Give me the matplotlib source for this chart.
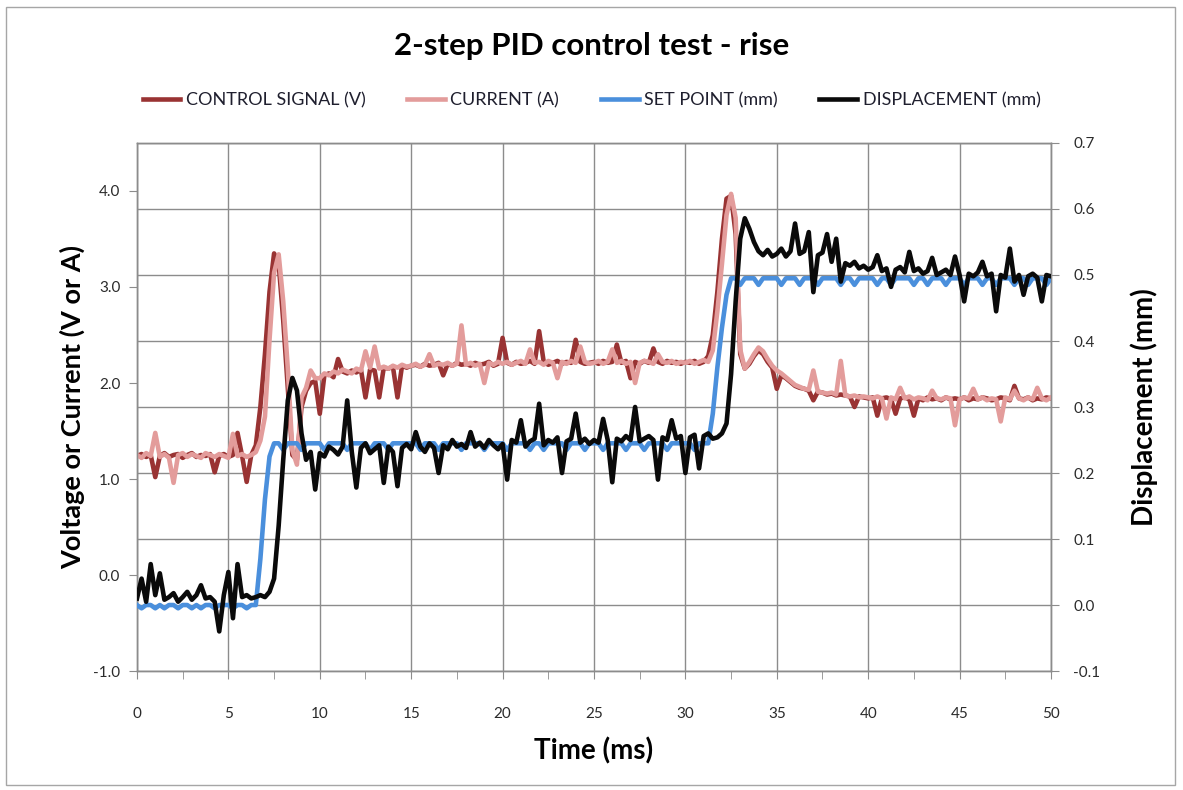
import numpy as np
import matplotlib
matplotlib.use("Agg")
import matplotlib.pyplot as plt
from matplotlib.patches import Rectangle
from matplotlib.ticker import MultipleLocator, FormatStrFormatter

plt.rcParams['font.family'] = ['Lato', 'DejaVu Sans']

# sample time (ms), 0.25 ms steps
time_ms = np.arange(201) * 0.25

control_signal = [
    1.24, 1.26, 1.23, 1.25, 1.02, 1.24, 1.27, 1.23, 1.25, 1.26, 1.22, 1.25, 1.27, 1.23, 1.25, 1.24, 1.26, 1.07, 1.24, 1.26,
    1.23, 1.25, 1.48, 1.24, 0.97, 1.25, 1.35, 1.75, 2.30, 2.95, 3.35, 3.25, 2.65, 1.95, 1.25, 1.20, 1.75, 1.92, 2.00, 2.02,
    1.68, 2.08, 2.10, 2.06, 2.25, 2.12, 2.10, 2.13, 2.11, 2.14, 1.85, 2.14, 2.13, 1.85, 2.16, 2.15, 2.17, 1.85, 2.18, 2.16,
    2.18, 2.19, 2.17, 2.20, 2.18, 2.19, 2.21, 2.08, 2.20, 2.18, 2.21, 2.19, 2.20, 2.18, 2.21, 2.19, 2.20, 2.22, 2.18, 2.20,
    2.47, 2.21, 2.19, 2.22, 2.20, 2.21, 2.23, 2.20, 2.54, 2.22, 2.19, 2.21, 2.23, 2.20, 2.22, 2.21, 2.45, 2.22, 2.20, 2.21,
    2.22, 2.20, 2.23, 2.21, 2.22, 2.40, 2.21, 2.23, 2.05, 2.22, 2.20, 2.23, 2.21, 2.36, 2.22, 2.20, 2.23, 2.21, 2.22, 2.20,
    2.22, 2.21, 2.23, 2.20, 2.22, 2.28, 2.50, 2.95, 3.50, 3.92, 3.95, 3.55, 2.30, 2.15, 2.20, 2.28, 2.34, 2.30, 2.22, 2.16,
    1.94, 2.08, 2.05, 2.01, 1.97, 1.95, 1.94, 1.92, 1.82, 1.91, 1.90, 1.88, 1.89, 1.87, 1.88, 1.87, 1.86, 1.75, 1.86, 1.85,
    1.84, 1.85, 1.66, 1.84, 1.85, 1.83, 1.68, 1.84, 1.85, 1.83, 1.66, 1.84, 1.82, 1.85, 1.83, 1.84, 1.82, 1.85, 1.83, 1.84,
    1.83, 1.85, 1.82, 1.84, 1.83, 1.85, 1.84, 1.82, 1.83, 1.85, 1.84, 1.82, 1.97, 1.84, 1.83, 1.85, 1.82, 1.84, 1.83, 1.85,
    1.84,
]

current = [
    1.25, 1.22, 1.27, 1.24, 1.48, 1.23, 1.26, 1.22, 0.96, 1.25, 1.27, 1.23, 1.26, 1.24, 1.22, 1.27, 1.25, 1.23, 1.26, 1.24,
    1.22, 1.47, 1.24, 1.26, 1.23, 1.25, 1.28, 1.40, 1.65, 2.45, 3.15, 3.34, 2.85, 2.15, 1.30, 1.15, 1.85, 1.95, 2.13, 2.05,
    2.05, 2.10, 2.08, 2.12, 2.10, 2.14, 2.12, 2.10, 2.15, 2.13, 2.33, 2.16, 2.38, 2.15, 2.17, 2.15, 2.18, 2.16, 2.19, 2.17,
    2.18, 2.20, 2.17, 2.19, 2.30, 2.18, 2.20, 2.19, 2.21, 2.18, 2.20, 2.60, 2.19, 2.21, 2.18, 2.20, 2.00, 2.21, 2.19, 2.22,
    2.20, 2.22, 2.19, 2.21, 2.23, 2.20, 2.35, 2.21, 2.22, 2.19, 2.23, 2.21, 2.05, 2.22, 2.20, 2.23, 2.21, 2.38, 2.22, 2.20,
    2.21, 2.23, 2.20, 2.22, 2.35, 2.21, 2.23, 2.20, 2.22, 2.00, 2.21, 2.23, 2.22, 2.20, 2.30, 2.22, 2.21, 2.23, 2.20, 2.22,
    2.21, 2.23, 2.20, 2.22, 2.24, 2.22, 2.34, 2.75, 3.24, 3.75, 3.97, 3.72, 2.35, 2.15, 2.22, 2.30, 2.37, 2.33, 2.25, 2.18,
    2.13, 2.10, 2.06, 2.02, 1.98, 1.96, 1.94, 1.93, 2.13, 1.91, 1.90, 1.89, 1.90, 1.88, 2.23, 1.87, 1.86, 1.87, 1.85, 1.86,
    1.85, 1.84, 1.86, 1.84, 1.63, 1.85, 1.83, 1.95, 1.84, 1.86, 1.83, 1.85, 1.84, 1.82, 1.92, 1.84, 1.83, 1.85, 1.84, 1.56,
    1.83, 1.85, 1.84, 1.94, 1.83, 1.85, 1.82, 1.84, 1.83, 1.60, 1.85, 1.83, 1.92, 1.84, 1.82, 1.85, 1.83, 1.95, 1.84, 1.82,
    1.85,
]

set_point = [
    0.000, -0.005, 0.000, 0.000, -0.005, 0.000, -0.005, 0.000, 0.000, -0.005, 0.000, 0.000, -0.005, 0.000, -0.005, 0.000, 0.000, -0.005, 0.000, 0.000,
    0.000, -0.005, 0.000, 0.000, -0.005, 0.000, 0.000, 0.070, 0.160, 0.225, 0.245, 0.245, 0.235, 0.245, 0.245, 0.245, 0.235, 0.245, 0.245, 0.245,
    0.245, 0.235, 0.245, 0.245, 0.245, 0.245, 0.235, 0.245, 0.245, 0.245, 0.245, 0.235, 0.245, 0.245, 0.245, 0.235, 0.245, 0.245, 0.245, 0.245,
    0.245, 0.245, 0.235, 0.245, 0.245, 0.245, 0.235, 0.245, 0.245, 0.245, 0.245, 0.235, 0.245, 0.245, 0.245, 0.245, 0.235, 0.245, 0.245, 0.245,
    0.245, 0.235, 0.245, 0.245, 0.245, 0.245, 0.235, 0.245, 0.245, 0.235, 0.245, 0.245, 0.245, 0.245, 0.235, 0.245, 0.245, 0.245, 0.235, 0.245,
    0.245, 0.245, 0.235, 0.245, 0.245, 0.245, 0.245, 0.235, 0.245, 0.245, 0.245, 0.235, 0.245, 0.245, 0.245, 0.245, 0.235, 0.245, 0.245, 0.245,
    0.245, 0.245, 0.235, 0.245, 0.245, 0.245, 0.290, 0.360, 0.420, 0.470, 0.495, 0.495, 0.485, 0.495, 0.495, 0.495, 0.485, 0.495, 0.495, 0.495,
    0.495, 0.485, 0.495, 0.495, 0.495, 0.485, 0.495, 0.495, 0.495, 0.485, 0.495, 0.495, 0.495, 0.495, 0.485, 0.495, 0.495, 0.485, 0.495, 0.495,
    0.495, 0.495, 0.485, 0.495, 0.495, 0.485, 0.495, 0.495, 0.495, 0.495, 0.485, 0.495, 0.495, 0.485, 0.495, 0.495, 0.495, 0.485, 0.495, 0.495,
    0.495, 0.485, 0.495, 0.495, 0.495, 0.485, 0.495, 0.495, 0.485, 0.495, 0.495, 0.495, 0.485, 0.495, 0.495, 0.485, 0.495, 0.495, 0.495, 0.485,
    0.495,
]

displacement = [
    0.010, 0.040, 0.005, 0.062, 0.015, 0.048, 0.008, 0.012, 0.018, 0.005, 0.012, 0.020, 0.008, 0.015, 0.030, 0.010, 0.012, 0.005, -0.040, 0.015,
    0.050, -0.020, 0.062, 0.012, 0.015, 0.010, 0.012, 0.015, 0.012, 0.020, 0.040, 0.120, 0.220, 0.310, 0.344, 0.325, 0.260, 0.220, 0.232, 0.175,
    0.230, 0.225, 0.240, 0.235, 0.228, 0.240, 0.310, 0.232, 0.178, 0.238, 0.245, 0.230, 0.236, 0.242, 0.185, 0.240, 0.232, 0.180, 0.238, 0.244,
    0.236, 0.262, 0.240, 0.232, 0.245, 0.238, 0.200, 0.242, 0.236, 0.250, 0.240, 0.244, 0.238, 0.262, 0.240, 0.246, 0.238, 0.250, 0.242, 0.236,
    0.244, 0.190, 0.250, 0.246, 0.280, 0.240, 0.248, 0.252, 0.305, 0.242, 0.250, 0.246, 0.254, 0.200, 0.248, 0.252, 0.290, 0.246, 0.252, 0.244,
    0.250, 0.246, 0.282, 0.250, 0.186, 0.252, 0.248, 0.256, 0.250, 0.300, 0.248, 0.252, 0.256, 0.250, 0.190, 0.254, 0.250, 0.280, 0.252, 0.256,
    0.200, 0.254, 0.258, 0.207, 0.256, 0.260, 0.252, 0.254, 0.260, 0.275, 0.350, 0.460, 0.555, 0.586, 0.570, 0.550, 0.536, 0.530, 0.538, 0.528,
    0.532, 0.540, 0.528, 0.536, 0.578, 0.532, 0.536, 0.565, 0.474, 0.530, 0.534, 0.562, 0.520, 0.555, 0.490, 0.518, 0.514, 0.520, 0.510, 0.514,
    0.508, 0.512, 0.530, 0.506, 0.510, 0.482, 0.508, 0.512, 0.504, 0.535, 0.506, 0.510, 0.502, 0.506, 0.526, 0.500, 0.504, 0.508, 0.500, 0.528,
    0.500, 0.460, 0.502, 0.498, 0.504, 0.520, 0.498, 0.502, 0.445, 0.500, 0.496, 0.540, 0.490, 0.500, 0.470, 0.498, 0.502, 0.496, 0.460, 0.500,
    0.498,
]

left_lim = (-1.0, 4.5)
right_lim = (-0.1, 0.7)
grid_col = '#8c8c8c'
tick_col = '#2b2b2b'
line_w = 3.3

fig = plt.figure(figsize=(11.83, 7.90), dpi=100)
fig.patches.append(Rectangle((0.005, 0.006), 0.988, 0.985, transform=fig.transFigure,
                             fill=False, edgecolor='#a6a6a6', linewidth=1.0))

ax = fig.add_axes([0.1158, 0.1506, 0.7726, 0.6684])
ax2 = ax.twinx()

ax.plot(time_ms, control_signal, color='#993333', lw=line_w, label='CONTROL SIGNAL (V)', zorder=3)
ax.plot(time_ms, current, color='#e39c9b', lw=line_w, label='CURRENT (A)', zorder=4)
ax2.plot(time_ms, set_point, color='#4a8fdc', lw=line_w, label='SET POINT (mm)', zorder=3)
ax2.plot(time_ms, displacement, color='#0a0a0a', lw=line_w, label='DISPLACEMENT (mm)', zorder=4)

ax.set_xlim(0, 50)
ax.set_ylim(*left_lim)
ax2.set_ylim(*right_lim)

ax.xaxis.set_major_locator(MultipleLocator(5))
ax.xaxis.set_minor_locator(MultipleLocator(2.5))
ax.yaxis.set_major_locator(MultipleLocator(1.0))
ax2.yaxis.set_major_locator(MultipleLocator(0.1))
ax.yaxis.set_major_formatter(FormatStrFormatter('%.1f'))
ax2.yaxis.set_major_formatter(FormatStrFormatter('%.1f'))

# horizontal gridlines follow the secondary axis ticks, drawn under the data
for r in ax2.get_yticks():
    if right_lim[0] <= r <= right_lim[1]:
        v = left_lim[0] + (r - right_lim[0]) / (right_lim[1] - right_lim[0]) * (left_lim[1] - left_lim[0])
        ax.axhline(v, color=grid_col, lw=1.0, zorder=1)
ax.grid(axis='x', which='major', color=grid_col, lw=1.0, zorder=1)
ax.set_axisbelow(True)

for a in (ax, ax2):
    for s in a.spines.values():
        s.set_color(grid_col)
        s.set_linewidth(1.0)
    a.tick_params(which='both', direction='out', length=6, color=grid_col,
                  labelcolor=tick_col, labelsize=11)
ax.tick_params(axis='x', which='both', pad=20)
ax.tick_params(axis='y', pad=6)
ax2.tick_params(axis='y', pad=10)

ax.set_xlabel('Time (ms)', fontsize=20, fontweight='bold', labelpad=12)
ax.set_ylabel('Voltage or Current (V or A)', fontsize=19.5, fontweight='bold', labelpad=6)
ax2.set_ylabel('Displacement (mm)', fontsize=20, fontweight='bold', labelpad=22)

fig.text(0.5, 0.942, '2-step PID control test - rise', ha='center', va='center',
         fontsize=22.5, fontweight='bold')

h1, l1 = ax.get_legend_handles_labels()
h2, l2 = ax2.get_legend_handles_labels()
leg = fig.legend(h1 + h2, l1 + l2, loc='center', bbox_to_anchor=(0.5, 0.873), ncol=4,
                 frameon=False, fontsize=13, handlelength=2.1, handletextpad=0.3,
                 columnspacing=2.3)
for txt in leg.get_texts():
    txt.set_color('#1f1f2e')

fig.savefig('out.png', dpi=100)
